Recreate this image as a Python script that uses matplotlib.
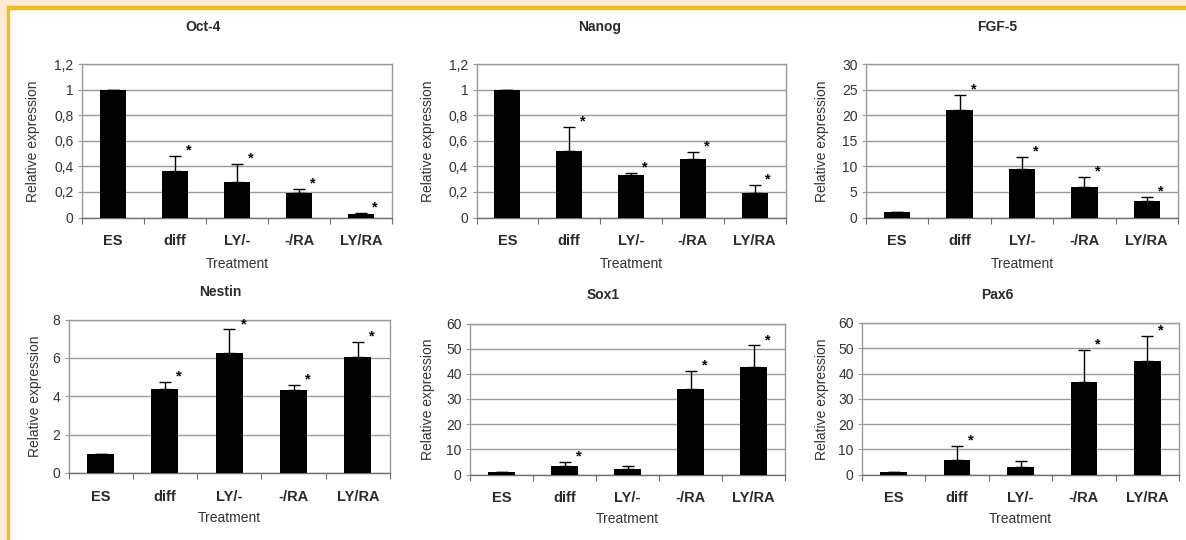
import matplotlib
matplotlib.use("Agg")
import matplotlib.pyplot as plt
from matplotlib.patches import Rectangle
from matplotlib.ticker import FuncFormatter, MultipleLocator

plt.rcParams['font.family'] = ['Liberation Sans', 'DejaVu Sans']

categories = ["ES", "diff", "LY/-", "-/RA", "LY/RA"]

oct4_vals = [1.0, 0.36, 0.28, 0.195, 0.03]
oct4_err = [0.0, 0.12, 0.14, 0.03, 0.008]
oct4_star = [False, True, True, True, True]

nanog_vals = [1.0, 0.517, 0.33, 0.46, 0.195]
nanog_err = [0.0, 0.19, 0.02, 0.05, 0.06]
nanog_star = [False, True, True, True, True]

fgf5_vals = [1.0, 21.1, 9.5, 6.0, 3.3]
fgf5_err = [0.0, 2.9, 2.4, 2.0, 0.8]
fgf5_star = [False, True, True, True, True]

nestin_vals = [1.0, 4.4, 6.26, 4.31, 6.02]
nestin_err = [0.0, 0.33, 1.22, 0.26, 0.81]
nestin_star = [False, True, True, True, True]

sox1_vals = [1.0, 3.3, 2.0, 33.8, 42.8]
sox1_err = [0.0, 1.6, 1.3, 7.4, 8.5]
sox1_star = [False, True, False, True, True]

pax6_vals = [0.9, 5.9, 3.0, 36.7, 45.0]
pax6_err = [0.0, 5.4, 2.5, 12.5, 9.9]
pax6_star = [False, True, False, True, True]

titles = ["Oct-4", "Nanog", "FGF-5", "Nestin", "Sox1", "Pax6"]
ymaxes = [1.2, 1.2, 30, 8, 60, 60]
ysteps = [0.2, 0.2, 5, 2, 10, 10]

W, H = 1186, 540
fig = plt.figure(figsize=(W / 100, H / 100), dpi=100)
fig.patch.set_facecolor("white")

# frame: cream band + orange line on top and left
cream = "#fcecd2"
orange = "#f3bd1f"
fig.patches.append(Rectangle((0, 1 - 6 / H), 1, 6 / H, transform=fig.transFigure, color=cream, zorder=0))
fig.patches.append(Rectangle((0, 0), 7 / W, 1, transform=fig.transFigure, color=cream, zorder=0))
fig.patches.append(Rectangle((7 / W, 1 - 9 / H), 1 - 7 / W, 3 / H, transform=fig.transFigure, color=orange, zorder=1))
fig.patches.append(Rectangle((7 / W, 0), 2.3 / W, 1 - 6 / H, transform=fig.transFigure, color=orange, zorder=1))

# axes boxes in pixels: left, top, right, bottom
boxes = [
    (82, 64, 392, 217.5),
    (476.5, 64, 785.5, 217.5),
    (866, 64, 1178, 217.5),
    (68.5, 319.5, 390, 473),
    (470, 323.5, 785, 474.5),
    (862, 323, 1179, 474.5),
]
# pixel positions of title centre, y-label centre (x), x-label centre (y)
title_x = [203, 600, 997, 220, 603, 997]
title_y = [27, 27, 27, 292, 295, 295]
ylabel_x = [33, 428, 822, 35, 428, 822]
xlabel_y = [264, 264, 264, 518, 519, 519]

data = [
    (oct4_vals, oct4_err, oct4_star),
    (nanog_vals, nanog_err, nanog_star),
    (fgf5_vals, fgf5_err, fgf5_star),
    (nestin_vals, nestin_err, nestin_star),
    (sox1_vals, sox1_err, sox1_star),
    (pax6_vals, pax6_err, pax6_star),
]

def comma_fmt(v, pos):
    s = ("%.1f" % v).rstrip("0").rstrip(".")
    return s.replace(".", ",")

grid_col = "#9a9a9a"
text_col = "#2a2a2a"
x = list(range(len(categories)))
for i, ((l, t, r, b), title, ymax, ystep, (vals, errs, stars)) in enumerate(
        zip(boxes, titles, ymaxes, ysteps, data)):
    ax = fig.add_axes([l / W, 1 - b / H, (r - l) / W, (b - t) / H])
    ax.bar(x, vals, width=0.42, color="black", zorder=3)
    ax.errorbar(x, vals, yerr=[[0] * len(vals), errs], fmt="none", ecolor="black",
                elinewidth=1.0, capsize=4, capthick=1.0, zorder=4)
    for xi, v, e, s in zip(x, vals, errs, stars):
        if s:
            ax.text(xi + 0.22, v + e + 0.035 * ymax, "*", ha="center", va="center",
                    fontsize=10.5, fontweight="bold", zorder=5)
    ax.set_xlim(-0.5, len(categories) - 0.5)
    ax.set_ylim(0, ymax)
    ax.yaxis.set_major_locator(MultipleLocator(ystep))
    ax.yaxis.set_major_formatter(FuncFormatter(comma_fmt))
    ax.grid(axis="y", color=grid_col, linewidth=1.0, zorder=0)
    ax.set_axisbelow(True)
    for sp in ax.spines.values():
        sp.set_color(grid_col)
        sp.set_linewidth(1.0)
    ax.spines["bottom"].set_color("#707070")
    ax.set_xticks([k - 0.5 for k in range(len(categories) + 1)])
    ax.set_xticklabels([])
    ax.set_xticks(x, minor=True)
    ax.set_xticklabels(categories, minor=True, fontsize=10.5, fontweight="bold", color=text_col)
    ax.tick_params(axis="x", which="major", length=4, color="#707070", direction="out")
    ax.tick_params(axis="x", which="minor", length=0, pad=12)
    ax.tick_params(axis="y", length=3, color=grid_col, labelsize=10, labelcolor="#333333", pad=3)

    fig.text(title_x[i] / W, 1 - title_y[i] / H, title, ha="center", va="center",
             fontsize=10, fontweight="bold", color=text_col)
    fig.text(ylabel_x[i] / W, 1 - (t + b) / 2 / H, "Relative expression", rotation=90,
             ha="center", va="center", fontsize=10, color="#333333")
    fig.text((l + r) / 2 / W, 1 - xlabel_y[i] / H, "Treatment", ha="center", va="center",
             fontsize=10, color="#333333")

fig.savefig("out.png", dpi=100, facecolor=fig.get_facecolor())
